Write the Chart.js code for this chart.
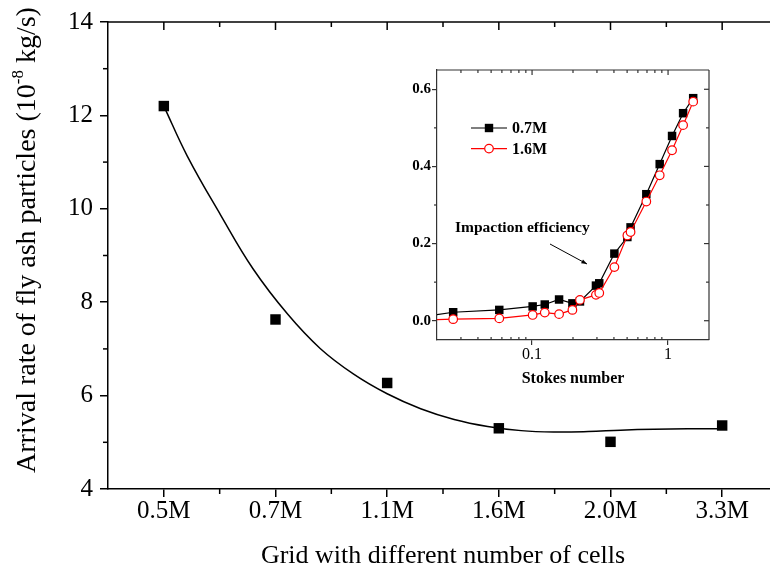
<!DOCTYPE html>
<html>
<head>
<meta charset="utf-8">
<script src="https://cdn.jsdelivr.net/npm/chart.js@4"></script>
<style>
html, body { margin: 0; padding: 0; background: #fff; overflow: hidden; width: 770px; height: 575px; }
#principal { position: absolute; left: 0; top: 0; width: 800px; height: 575px; }
#recuadro { position: absolute; left: 380px; top: 55px; width: 340px; height: 340px; }
</style>
</head>
<body>
<div id="principal"><canvas id="grafica"></canvas></div>
<div id="recuadro"><canvas id="inserto"></canvas></div>
<script>
// Gráfica principal: tasa de llegada por malla
var mallas = ['0.5M', '0.7M', '1.1M', '1.6M', '2.0M', '3.3M'];
var tasaLlegada = [12.2, 7.63, 6.27, 5.30, 5.01, 5.36];
var ticksY = [4, 6, 8, 10, 12, 14];
// Curva de ajuste (posición de malla 1..6, valor)
var ajusteX = [1, 1.21, 1.51, 1.80, 2.11, 2.40, 2.70, 3.00, 3.30, 3.60, 3.90, 4.20, 4.49, 4.80, 5.09, 5.39, 5.69, 6.0];
var ajusteY = [12.2, 11.13, 9.86, 8.71, 7.74, 7.01, 6.46, 6.04, 5.72, 5.49, 5.34, 5.25, 5.22, 5.23, 5.26, 5.28, 5.29, 5.29];

// Gráfica pequeña: eficiencia de impacto
var stokes = [0.012, 0.0263, 0.0574, 0.101, 0.124, 0.158, 0.198, 0.225, 0.295, 0.312, 0.403, 0.502, 0.530, 0.692, 0.868, 1.07, 1.29, 1.53];
var eficiencia07 = [0.004, 0.022, 0.028, 0.037, 0.042, 0.055, 0.045, 0.050, 0.091, 0.097, 0.174, 0.217, 0.242, 0.328, 0.406, 0.479, 0.538, 0.577];
var eficiencia16 = [0.001, 0.004, 0.006, 0.015, 0.021, 0.017, 0.028, 0.054, 0.067, 0.072, 0.139, 0.221, 0.230, 0.309, 0.377, 0.442, 0.507, 0.568];
var ticksStokes = [0.1, 1];
var ticksEficiencia = [0, 0.2, 0.4, 0.6];

var fuente = '"Liberation Serif", "Times New Roman", serif';

function lineaEje(ctx, x1, y1, x2, y2) {
    ctx.beginPath();
    ctx.moveTo(x1, y1);
    ctx.lineTo(x2, y2);
    ctx.stroke();
}

// marco superior, ticks menores y título del eje y (con superíndice)
var marcoPrincipal = {
    id: 'marcoPrincipal',
    afterDraw: function(chart) {
        var ctx = chart.ctx, a = chart.chartArea;
        var x = chart.scales.x, y = chart.scales.y;
        ctx.save();
        ctx.strokeStyle = '#000';
        ctx.lineWidth = 1.5;
        lineaEje(ctx, a.left, a.top, a.right, a.top);
        for (var i = 0; i < mallas.length; i++) {
            var px = x.getPixelForValue(i + 1);
            lineaEje(ctx, px, a.top, px, a.top + 8);
            var pm = x.getPixelForValue(i + 1.5);
            lineaEje(ctx, pm, a.top, pm, a.top + 5);
            lineaEje(ctx, pm, a.bottom, pm, a.bottom + 5);
        }
        for (var j = 0; j < ticksY.length - 1; j++) {
            var py = y.getPixelForValue((ticksY[j] + ticksY[j + 1]) / 2);
            lineaEje(ctx, a.left - 5, py, a.left, py);
        }

        // titulo y
        var t1 = 'Arrival rate of fly ash particles (10', sup = '-8', t2 = ' kg/s)';
        ctx.translate(28, 240);
        ctx.rotate(-Math.PI / 2);
        ctx.fillStyle = '#000';
        ctx.textBaseline = 'middle';
        ctx.textAlign = 'left';
        ctx.font = '28px ' + fuente;
        var w1 = ctx.measureText(t1).width, w2 = ctx.measureText(t2).width;
        ctx.font = '17px ' + fuente;
        var ws = ctx.measureText(sup).width;
        var x0 = -(w1 + ws + w2) / 2;
        ctx.font = '28px ' + fuente;
        ctx.fillText(t1, x0, 0);
        ctx.fillText(t2, x0 + w1 + ws, 0);
        ctx.font = '17px ' + fuente;
        ctx.fillText(sup, x0 + w1, -9);
        ctx.restore();
    }
};

var ctx = document.getElementById('grafica').getContext('2d');
var grafica = new Chart(ctx, {
    type: 'scatter',
    data: {
        datasets: [
            {
                label: 'Arrival rate',
                data: tasaLlegada.map(function(v, i) { return { x: i + 1, y: v }; }),
                pointStyle: 'rect',
                pointRadius: 7.4,
                backgroundColor: '#000',
                borderColor: '#000',
                borderWidth: 0
            },
            {
                label: 'Ajuste',
                data: ajusteX.map(function(v, i) { return { x: v, y: ajusteY[i] }; }),
                showLine: true,
                tension: 0.4,
                pointRadius: 0,
                borderColor: '#000',
                borderWidth: 1.5
            }
        ]
    },
    options: {
        responsive: true,
        maintainAspectRatio: false,
        animation: false,
        devicePixelRatio: 1,
        layout: { padding: { left: 0, top: 18, right: 22, bottom: 0 } },
        plugins: { legend: { display: false }, tooltip: { enabled: false } },
        scales: {
            x: {
                type: 'linear',
                min: 0.5,
                max: 6.5,
                afterBuildTicks: function(scale) {
                    scale.ticks = mallas.map(function(m, i) { return { value: i + 1 }; });
                },
                afterFit: function(scale) { scale.height = 86; },
                ticks: {
                    autoSkip: false,
                    maxRotation: 0,
                    color: '#000',
                    padding: -1,
                    font: { family: fuente, size: 25 },
                    callback: function(v) { return mallas[Math.round(v) - 1]; }
                },
                grid: { drawOnChartArea: false, drawTicks: true, tickLength: 8, color: '#000', lineWidth: 1.5 },
                border: { display: true, color: '#000', width: 1.5 },
                title: {
                    display: true,
                    text: 'Grid with different number of cells',
                    color: '#000',
                    font: { family: fuente, size: 26 },
                    padding: { top: 0, bottom: 3 }
                }
            },
            y: {
                min: 4,
                max: 14,
                afterBuildTicks: function(scale) {
                    scale.ticks = ticksY.map(function(v) { return { value: v }; });
                },
                afterFit: function(scale) { scale.width = 108; },
                ticks: {
                    color: '#000',
                    padding: 7,
                    font: { family: fuente, size: 25 }
                },
                grid: { drawOnChartArea: false, drawTicks: true, tickLength: 8, color: '#000', lineWidth: 1.5 },
                border: { display: true, color: '#000', width: 1.5 }
            }
        }
    },
    plugins: [marcoPrincipal]
});

// marco, ticks, leyenda y anotación del recuadro
var leyendaInserto = [
    { texto: '0.7M', color: '#000', forma: 'rect' },
    { texto: '1.6M', color: '#f00', forma: 'circle' }
];

function marcador(ctx, forma, color, x, y) {
    ctx.save();
    if (forma === 'rect') {
        ctx.fillStyle = color;
        ctx.fillRect(x - 4.2, y - 4.2, 8.4, 8.4);
    } else {
        ctx.beginPath();
        ctx.arc(x, y, 4.3, 0, Math.PI * 2);
        ctx.fillStyle = '#fff';
        ctx.fill();
        ctx.strokeStyle = color;
        ctx.lineWidth = 1.2;
        ctx.stroke();
    }
    ctx.restore();
}

var marcoInserto = {
    id: 'marcoInserto',
    afterDraw: function(chart) {
        var ctx = chart.ctx, a = chart.chartArea;
        var x = chart.scales.x, y = chart.scales.y;
        ctx.save();
        ctx.strokeStyle = '#333';
        ctx.lineWidth = 1.2;
        lineaEje(ctx, a.left, a.top, a.right, a.top);
        lineaEje(ctx, a.right, a.top, a.right, a.bottom);
        // ticks de x: menores hacia dentro, mayores arriba
        [0.01, 0.1, 1].forEach(function(d) {
            for (var k = 2; k <= 9; k++) {
                var v = k * d;
                if (v <= x.min || v >= x.max) continue;
                var px = x.getPixelForValue(v);
                lineaEje(ctx, px, a.bottom, px, a.bottom - 3);
                lineaEje(ctx, px, a.top, px, a.top + 3);
            }
        });
        ticksStokes.forEach(function(v) {
            var px = x.getPixelForValue(v);
            lineaEje(ctx, px, a.top, px, a.top + 5);
        });
        // ticks de y
        ticksEficiencia.forEach(function(v, i) {
            var py = y.getPixelForValue(v);
            lineaEje(ctx, a.right, py, a.right - 5, py);
            if (i < ticksEficiencia.length - 1) {
                var pm = y.getPixelForValue((v + ticksEficiencia[i + 1]) / 2);
                lineaEje(ctx, a.right, pm, a.right - 3, pm);
                lineaEje(ctx, a.left, pm, a.left - 3, pm);
            }
        });

        // leyenda
        ctx.font = 'bold 16px ' + fuente;
        ctx.textBaseline = 'middle';
        ctx.textAlign = 'left';
        leyendaInserto.forEach(function(item, i) {
            var ly = a.top + 58 + i * 20.6;
            ctx.strokeStyle = item.color;
            ctx.lineWidth = 1.2;
            lineaEje(ctx, a.left + 34, ly, a.left + 70, ly);
            marcador(ctx, item.forma, item.color, a.left + 52, ly);
            ctx.fillStyle = '#000';
            ctx.fillText(item.texto, a.left + 75, ly + 1);
        });

        // anotación con flecha
        ctx.font = 'bold 15.5px ' + fuente;
        ctx.fillStyle = '#000';
        ctx.fillText('Impaction efficiency', a.left + 18, a.top + 158);
        var x1 = a.left + 113, y1 = a.top + 174, x2 = a.left + 150, y2 = a.top + 194;
        ctx.strokeStyle = '#000';
        ctx.lineWidth = 1;
        lineaEje(ctx, x1, y1, x2, y2);
        var ang = Math.atan2(y2 - y1, x2 - x1);
        ctx.beginPath();
        ctx.moveTo(x2, y2);
        ctx.lineTo(x2 - 6 * Math.cos(ang - 0.35), y2 - 6 * Math.sin(ang - 0.35));
        ctx.lineTo(x2 - 6 * Math.cos(ang + 0.35), y2 - 6 * Math.sin(ang + 0.35));
        ctx.closePath();
        ctx.fill();
        ctx.restore();
    }
};

var ctx2 = document.getElementById('inserto').getContext('2d');
var inserto = new Chart(ctx2, {
    type: 'scatter',
    data: {
        datasets: [
            {
                label: '1.6M',
                data: stokes.map(function(v, i) { return { x: v, y: eficiencia16[i] }; }),
                showLine: true,
                borderColor: '#f00',
                borderWidth: 1.2,
                pointStyle: 'circle',
                pointRadius: 4.3,
                pointBorderWidth: 1.2,
                pointBorderColor: '#f00',
                pointBackgroundColor: '#fff'
            },
            {
                label: '0.7M',
                data: stokes.map(function(v, i) { return { x: v, y: eficiencia07[i] }; }),
                showLine: true,
                borderColor: '#000',
                borderWidth: 1.2,
                pointStyle: 'rect',
                pointRadius: 6,
                pointBorderWidth: 0,
                pointBackgroundColor: '#000'
            }
        ]
    },
    options: {
        responsive: true,
        maintainAspectRatio: false,
        animation: false,
        devicePixelRatio: 1,
        layout: { padding: { left: 0, top: 15, right: 11, bottom: 0 } },
        plugins: { legend: { display: false }, tooltip: { enabled: false } },
        scales: {
            x: {
                type: 'logarithmic',
                min: 0.02,
                max: 2,
                afterBuildTicks: function(scale) {
                    scale.ticks = ticksStokes.map(function(v) { return { value: v }; });
                },
                afterFit: function(scale) { scale.height = 55; },
                ticks: {
                    autoSkip: false,
                    maxRotation: 0,
                    color: '#000',
                    padding: 0,
                    font: { family: fuente, size: 16 },
                    callback: function(v) { return String(v); }
                },
                grid: { drawOnChartArea: false, drawTicks: true, tickLength: 5, color: '#333', lineWidth: 1.2 },
                border: { display: true, color: '#333', width: 1.2 },
                title: {
                    display: true,
                    text: 'Stokes number',
                    color: '#000',
                    font: { family: fuente, size: 16, weight: 'bold' },
                    padding: { top: 0, bottom: 7 }
                }
            },
            y: {
                min: -0.05,
                max: 0.65,
                afterBuildTicks: function(scale) {
                    scale.ticks = ticksEficiencia.map(function(v) { return { value: v }; });
                },
                afterFit: function(scale) { scale.width = 57; },
                ticks: {
                    color: '#000',
                    padding: 1,
                    font: { family: fuente, size: 15, weight: 'bold' },
                    callback: function(v) { return v.toFixed(1); }
                },
                grid: { drawOnChartArea: false, drawTicks: true, tickLength: 5, color: '#333', lineWidth: 1.2 },
                border: { display: true, color: '#333', width: 1.2 }
            }
        }
    },
    plugins: [marcoInserto]
});
</script>
</body>
</html>
